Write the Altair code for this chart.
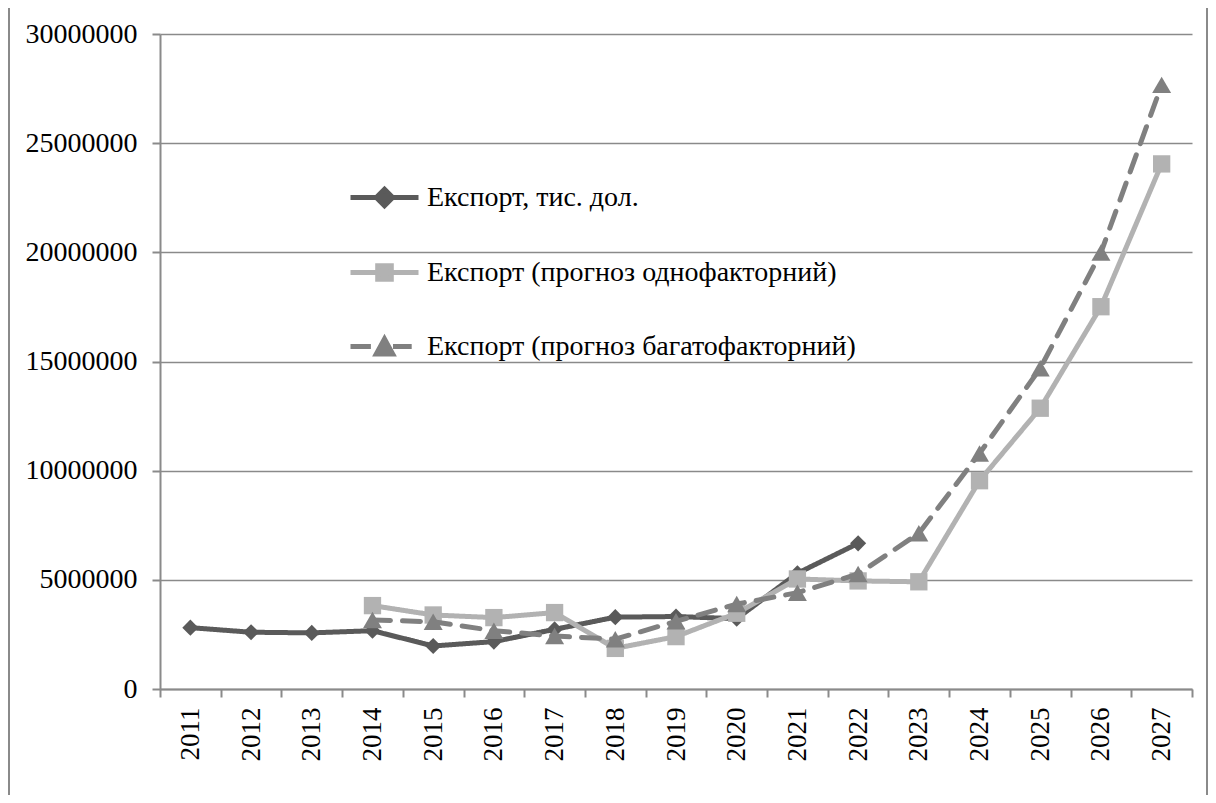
import altair as alt
import pandas as pd

years = [str(y) for y in range(2011, 2028)]

export_years = years[0:12]
export_vals = [2810000, 2600000, 2570000, 2670000, 1970000, 2170000, 2730000,
               3290000, 3320000, 3220000, 5300000, 6670000]

fc_years = years[3:]
single_vals = [3820000, 3390000, 3270000, 3500000, 1860000, 2400000, 3470000,
               5040000, 4950000, 4910000, 9540000, 12860000, 17510000, 24050000]
multi_vals = [3160000, 3080000, 2670000, 2430000, 2280000, 3100000, 3890000,
              4410000, 5270000, 7130000, 10790000, 14690000, 19990000, 27670000]

s1 = "Експорт, тис. дол."
s2 = "Експорт (прогноз однофакторний)"
s3 = "Експорт (прогноз багатофакторний)"
series_names = [s1, s2, s3]
colors = ["#5a5a5a", "#b2b2b2", "#808080"]
shapes = ["diamond", "square", "triangle-up"]
sizes = [260, 300, 360]
dashes = [[1, 0], [1, 0], [18, 12]]

rows = []
for y, v in zip(export_years, export_vals):
    rows.append({"year": y, "value": v, "series": s1})
for y, v in zip(fc_years, single_vals):
    rows.append({"year": y, "value": v, "series": s2})
for y, v in zip(fc_years, multi_vals):
    rows.append({"year": y, "value": v, "series": s3})
df = pd.DataFrame(rows)

FONT = "Liberation Serif"
AX = "#8a8a8a"

x_enc = alt.X("year:N", sort=years, scale=alt.Scale(domain=years, paddingInner=0, paddingOuter=0),
              axis=alt.Axis(title=None, labelAngle=270, labelAlign="right", labelBaseline="middle",
                            labelPadding=10, tickBand="extent", tickSize=8, tickWidth=2,
                            tickColor=AX, domainColor=AX, domainWidth=2, grid=False,
                            labelFont=FONT, labelFontSize=27, labelColor="black"))
y_enc = alt.Y("value:Q", scale=alt.Scale(domain=[0, 30000000], nice=False),
              axis=alt.Axis(title=None, values=[0, 5000000, 10000000, 15000000, 20000000, 25000000, 30000000],
                            format="d", tickSize=8, tickWidth=2, tickColor=AX, domainColor=AX, domainWidth=2,
                            grid=True, gridColor=AX, gridWidth=1.5, labelPadding=15,
                            labelFont=FONT, labelFontSize=28, labelColor="black"))

base = alt.Chart(df)
layers = []
for name, col, shp, sz, dsh in zip(series_names, colors, shapes, sizes, dashes):
    part = base.transform_filter(alt.datum.series == name)
    layers.append(part.mark_line(color=col, strokeWidth=5, strokeDash=dsh, strokeCap="round",
                                 strokeJoin="round").encode(x=x_enc, y=y_enc))
    layers.append(part.mark_point(shape=shp, size=sz, filled=True, color=col, opacity=1,
                                  strokeWidth=0).encode(x=x_enc, y=y_enc))

legend_paths = [
    "M-1,0L1,0M0,-0.24L0.24,0L0,0.24L-0.24,0Z",
    "M-1,0L1,0M-0.2,-0.2L0.2,-0.2L0.2,0.2L-0.2,0.2Z",
    "M-1,0L-0.4,0M0.25,0L0.8,0M-0.24,0.22L0,-0.22L0.24,0.22Z",
]
leg = alt.Legend(title=None, orient="none", legendX=188, legendY=127, symbolSize=4624,
                 symbolStrokeWidth=5, symbolOpacity=1, rowPadding=20, labelOffset=6,
                 labelFont=FONT, labelFontSize=28, labelColor="black", labelLimit=0, padding=0)
legend_layer = base.mark_point(filled=True, opacity=0).encode(
    x=x_enc, y=y_enc,
    fill=alt.Fill("series:N", sort=series_names, scale=alt.Scale(domain=series_names, range=colors), legend=leg),
    stroke=alt.Stroke("series:N", sort=series_names, scale=alt.Scale(domain=series_names, range=colors), legend=leg),
    shape=alt.Shape("series:N", sort=series_names, scale=alt.Scale(domain=series_names, range=legend_paths), legend=leg),
)

frame = alt.Chart(pd.DataFrame({"a": [0]})).mark_rect(fill=None, stroke=AX, strokeWidth=2, clip=False).encode(
    x=alt.value(-151), x2=alt.value(1047), y=alt.value(-27), y2=alt.value(800))

chart = alt.layer(frame, *layers, legend_layer).properties(
    width=1032, height=655,
    autosize=alt.AutoSizeParams(type="none"),
    padding={"left": 152, "top": 26, "right": 16, "bottom": 106},
).configure_view(stroke=None)

chart.save("out.html", embed_options={"renderer": "svg", "actions": False})
